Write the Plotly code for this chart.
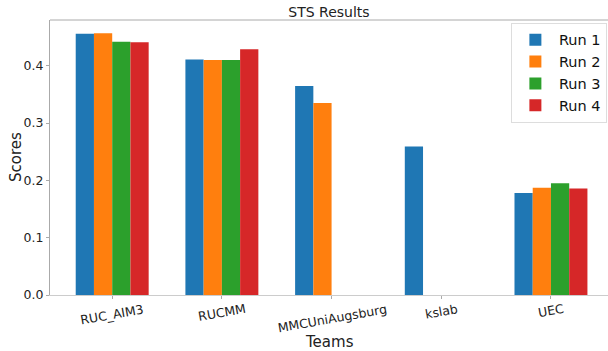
import plotly.graph_objects as go

teams = ["RUC_AIM3", "RUCMM", "MMCUniAugsburg", "kslab", "UEC"]
run_names = ["Run 1", "Run 2", "Run 3", "Run 4"]
run1 = [0.456, 0.411, 0.365, 0.259, 0.178]
run2 = [0.457, 0.410, 0.335, None, 0.187]
run3 = [0.442, 0.410, None, None, 0.195]
run4 = [0.441, 0.429, None, None, 0.186]
colors = ["#1f77b4", "#ff7f0e", "#2ca02c", "#d62728"]

fig = go.Figure()
for name, vals, c in zip(run_names, [run1, run2, run3, run4], colors):
    fig.add_trace(go.Bar(x=list(range(len(teams))), y=vals, name=name,
                         marker=dict(color=c, line=dict(width=0))))

font = "DejaVu Sans, sans-serif"
fig.update_layout(
    width=608, height=351,
    margin=dict(l=50, r=0, t=20, b=56, autoexpand=False),
    barmode="group", bargap=0.335, bargroupgap=0,
    plot_bgcolor="white", paper_bgcolor="white",
    font=dict(family=font, color="#222", size=12),
    title=dict(text="STS Results", x=0.5, xref="paper", y=0.965, yref="container",
               xanchor="center", yanchor="middle", font=dict(size=14, color="#222")),
    legend=dict(x=0.998, y=0.99, xanchor="right", yanchor="top",
                bgcolor="white", bordercolor="#dddddd", borderwidth=1,
                font=dict(size=14.5, color="#111"), itemwidth=37,
                tracegroupgap=0),
    showlegend=True,
)
fig.update_xaxes(
    tickmode="array", tickvals=list(range(len(teams))), ticktext=[""] * len(teams),
    range=[-0.567, 4.52], automargin=False,
    showline=True, linecolor="#cccccc", linewidth=1, mirror=False,
    ticks="outside", ticklen=3, tickcolor="#aaaaaa",
    showgrid=False, zeroline=False,
)
fig.update_yaxes(
    range=[0, 0.48], tickvals=[0, 0.1, 0.2, 0.3, 0.4], tickformat=".1f",
    automargin=False,
    showline=True, linecolor="#aaaaaa", linewidth=1,
    ticks="outside", ticklen=3, tickcolor="#aaaaaa",
    showgrid=False, zeroline=False,
    tickfont=dict(size=12.5, color="#222"),
)
# x tick labels centered under ticks, slightly rotated
for i, t in enumerate(teams):
    fig.add_annotation(x=i, y=0, xref="x", yref="paper", text=t, showarrow=False,
                       textangle=-10, xanchor="center", yanchor="top", yshift=-4,
                       font=dict(size=12.5, color="#222"))
fig.add_annotation(x=0.5, y=-0.171, xref="paper", yref="paper", text="Teams",
                   showarrow=False, xanchor="center", yanchor="middle",
                   font=dict(size=15, color="#222"))
fig.add_annotation(x=-0.0618, y=0.5, xref="paper", yref="paper", text="Scores",
                   showarrow=False, xanchor="center", yanchor="middle", textangle=-90,
                   font=dict(size=15, color="#222"))
# top spine
fig.add_shape(type="line", xref="paper", yref="paper", x0=0, x1=1, y0=1, y1=1,
              line=dict(color="#aaaaaa", width=1))

fig.write_html("out.html", config={"displayModeBar": False},
               post_script="document.body.style.margin='0';document.body.style.overflow='hidden';")
